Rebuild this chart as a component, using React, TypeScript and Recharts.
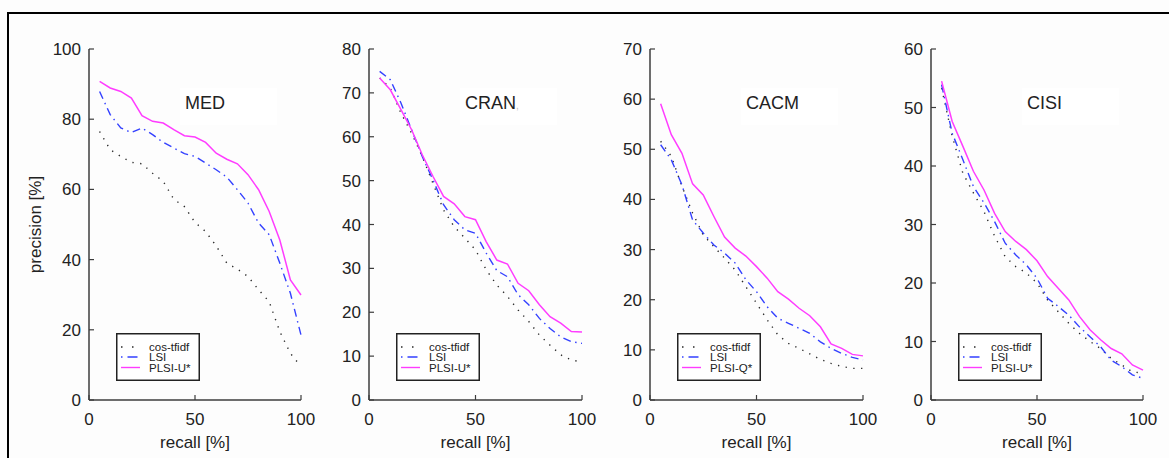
import React from 'react';
import { LineChart, Line, XAxis, YAxis, Legend } from 'recharts';

// ---------- data ----------
const recall = [5, 10, 15, 20, 25, 30, 35, 40, 45, 50, 55, 60, 65, 70, 75, 80, 85, 90, 95, 100];
const xTicks = [0, 50, 100];
const xTopTicks = [50];

const medCos = [76.5, 71.3, 69.4, 67.7, 67.3, 64.6, 62.3, 57.2, 55.1, 50.6, 48, 43.9, 39, 37.3, 35.2, 31.4, 28, 19.5, 13.3, 9.5];
const medLsi = [87.9, 81.3, 77.5, 76.2, 77.5, 75.6, 73.4, 71.8, 70.2, 69.4, 67.5, 65.6, 63.5, 59.9, 56.1, 50.4, 47.1, 39, 30.4, 18.5];
const medPlsi = [90.8, 88.9, 87.9, 86, 81, 79.4, 78.9, 77, 75.3, 74.9, 73.4, 70.3, 68.6, 67.3, 64.2, 59.9, 53.7, 45.6, 34.2, 29.9];

const cranCos = [73.4, 71.1, 65.4, 60.8, 55.5, 49.4, 43.3, 39.5, 36.9, 34.2, 29.7, 26.2, 23.6, 20.5, 17.9, 14.8, 12.5, 10.3, 9.1, 8.7];
const cranLsi = [74.9, 73, 67.7, 61.6, 55.5, 50.2, 44.5, 41.1, 38.8, 38, 33.5, 29.5, 28.1, 24, 21.7, 18.6, 16.3, 14.4, 13.3, 12.9];
const cranPlsi = [73.4, 70.7, 66.2, 61.6, 55.9, 51, 46.4, 44.7, 41.8, 41.1, 36.1, 31.9, 31, 26.6, 24.9, 21.7, 19, 17.5, 15.6, 15.5];

const cacmCos = [51.6, 48.6, 42.6, 37.3, 32.9, 30.6, 28.3, 25.9, 22.6, 19.3, 16, 13, 11.3, 10.3, 9.2, 8.1, 7.3, 6.7, 6.3, 6.3];
const cacmLsi = [50.9, 47.9, 42.9, 35.9, 33.3, 30.9, 29.3, 27.3, 24, 21.6, 18.6, 16.3, 15.3, 14.3, 13.3, 11.6, 10.3, 9.3, 8.5, 8];
const cacmPlsi = [59.1, 52.9, 49.2, 43.1, 40.9, 36.6, 32.5, 30.3, 28.7, 26.6, 24.3, 21.6, 20.1, 18.3, 16.8, 14.6, 11.2, 10.3, 9.1, 8.8];

const cisiCos = [53.3, 45.1, 38.8, 35.4, 32.2, 28, 24.5, 22.8, 21.7, 20, 17.1, 15.1, 13.1, 11.4, 10, 8.8, 7.1, 6, 4.8, 4.6];
const cisiLsi = [53.9, 45.6, 41.1, 36.5, 33.7, 30.5, 26.8, 24.8, 23.1, 20.8, 17.4, 16, 14.5, 12.5, 10.8, 9.1, 6.8, 5.7, 4.3, 3.7];
const cisiPlsi = [54.5, 47.6, 43.4, 39.1, 35.9, 31.9, 28.8, 27.1, 25.7, 23.8, 21.1, 19.1, 17.1, 14.3, 12, 10.3, 8.8, 7.9, 6, 5.1];

const medTicks = [0, 20, 40, 60, 80, 100];
const cranTicks = [0, 10, 20, 30, 40, 50, 60, 70, 80];
const cacmTicks = [0, 10, 20, 30, 40, 50, 60, 70];
const cisiTicks = [0, 10, 20, 30, 40, 50, 60];

const panelTitles = ['MED', 'CRAN', 'CACM', 'CISI'];
const cosName = 'cos-tfidf';
const lsiName = 'LSI';
const plsiNames = ['PLSI-U*', 'PLSI-U*', 'PLSI-Q*', 'PLSI-U*'];

// ---------- styles ----------
const FONT = '"Liberation Sans", Arial, Helvetica, sans-serif';
const AXIS = '#3c3c3c';
const TEXT = '#222';
const COS_COLOR = '#2a2a2a';
const LSI_COLOR = '#3340ff';
const PLSI_COLOR = '#ff3cff';
const COS_DASH = '1.3 6.5';
const LSI_DASH = '8 4.5 1.5 4.5';

const LEFT_W = 70;
const RIGHT_M = 25;

const LeftTick = (p: any) => (
  <g>
    <line x1={p.x} y1={p.y} x2={p.x + 5} y2={p.y} stroke={AXIS} strokeWidth={1.2} />
    <text x={p.x - 8} y={p.y + 6} textAnchor="end" fontSize={17} fill={TEXT} fontFamily={FONT}>
      {p.payload.value}
    </text>
  </g>
);
const RightTick = (p: any) => (
  <line x1={p.x} y1={p.y} x2={p.x - 5} y2={p.y} stroke={AXIS} strokeWidth={1.2} />
);
const BottomTick = (p: any) => (
  <g>
    <line x1={p.x} y1={p.y} x2={p.x} y2={p.y - 5} stroke={AXIS} strokeWidth={1.2} />
    <text x={p.x} y={p.y + 25} textAnchor="middle" fontSize={17} fill={TEXT} fontFamily={FONT}>
      {p.payload.value}
    </text>
  </g>
);
const TopTick = (p: any) => (
  <line x1={p.x} y1={p.y} x2={p.x} y2={p.y + 5} stroke={AXIS} strokeWidth={1.2} />
);

const XLabel = (p: any) => {
  const vb = p.viewBox || {};
  return (
    <text x={vb.x + vb.width / 2} y={vb.y + 48} textAnchor="middle" fontSize={17} fill={TEXT} fontFamily={FONT}>
      recall [%]
    </text>
  );
};
const YLabel = (p: any) => {
  const vb = p.viewBox || {};
  const cx = vb.x + 16;
  const cy = vb.y + vb.height / 2;
  return (
    <text
      x={cx}
      y={cy}
      transform={`rotate(-90, ${cx}, ${cy})`}
      textAnchor="middle"
      dominantBaseline="central"
      fontSize={17}
      fill={TEXT}
      fontFamily={FONT}
    >
      precision [%]
    </text>
  );
};

const LegendBox = ({ plsiName }: { plsiName: string }) => {
  const rows = [
    { name: cosName, color: COS_COLOR, dash: '1.5 9.5', y: 14 },
    { name: lsiName, color: LSI_COLOR, dash: '1.5 5 10 5', y: 24 },
    { name: plsiName, color: PLSI_COLOR, dash: undefined, y: 34.5 },
  ];
  return (
    <svg width={84} height={48} style={{ display: 'block' }}>
      <rect x={0.75} y={0.75} width={82.5} height={46.5} fill="#fff" stroke="#222" strokeWidth={1.5} />
      {rows.map((r) => (
        <g key={r.name}>
          <line x1={5} y1={r.y} x2={24} y2={r.y} stroke={r.color} strokeWidth={1.4} strokeDasharray={r.dash} />
          <text x={33} y={r.y + 4} fontSize={11.5} fill={TEXT} fontFamily={FONT}>
            {r.name}
          </text>
        </g>
      ))}
    </svg>
  );
};

interface PanelProps {
  plotLeft: number;
  plotWidth: number;
  title: string;
  titleSuffix?: string;
  yMax: number;
  yTicks: number[];
  cos: number[];
  lsi: number[];
  plsi: number[];
  plsiName: string;
  showYLabel: boolean;
}

const Panel = (props: PanelProps) => {
  const { plotLeft, plotWidth, title, titleSuffix, yMax, yTicks, cos, lsi, plsi, plsiName, showYLabel } = props;
  const data = recall.map((r, i) => ({ recall: r, cos: cos[i], lsi: lsi[i], plsi: plsi[i] }));
  const W = LEFT_W + plotWidth + RIGHT_M;
  const axisLine = { stroke: AXIS, strokeWidth: 1.5 };
  return (
    <div style={{ position: 'absolute', left: plotLeft - LEFT_W, top: 0, width: W, height: 458 }}>
      <LineChart width={W} height={458} data={data} margin={{ top: 49, right: RIGHT_M, bottom: 28, left: 0 }}>
        <XAxis
          xAxisId="b"
          dataKey="recall"
          type="number"
          domain={[0, 100]}
          ticks={xTicks}
          interval={0}
          tick={BottomTick}
          tickLine={false}
          tickSize={0}
          tickMargin={0}
          height={30}
          axisLine={axisLine}
          label={XLabel}
        />
        <XAxis
          xAxisId="t"
          orientation="top"
          type="number"
          domain={[0, 100]}
          ticks={xTopTicks}
          interval={0}
          tick={TopTick}
          tickLine={false}
          tickSize={0}
          tickMargin={0}
          height={0}
          axisLine={axisLine}
        />
        <YAxis
          yAxisId="l"
          type="number"
          domain={[0, yMax]}
          ticks={yTicks}
          interval={0}
          tick={LeftTick}
          tickLine={false}
          tickSize={0}
          tickMargin={0}
          width={LEFT_W}
          axisLine={axisLine}
          label={showYLabel ? YLabel : undefined}
        />
        <YAxis
          yAxisId="r"
          orientation="right"
          type="number"
          domain={[0, yMax]}
          ticks={yTicks}
          interval={0}
          tick={RightTick}
          tickLine={false}
          tickSize={0}
          tickMargin={0}
          width={0}
          axisLine={axisLine}
        />
        <Legend
          layout="vertical"
          align="center"
          verticalAlign="middle"
          wrapperStyle={{ left: LEFT_W + 27, top: 333, width: 84, height: 48 }}
          content={() => <LegendBox plsiName={plsiName} />}
        />
        <Line
          xAxisId="b"
          yAxisId="l"
          dataKey="cos"
          name={cosName}
          stroke={COS_COLOR}
          strokeWidth={1.4}
          strokeDasharray={COS_DASH}
          dot={false}
          isAnimationActive={false}
          type="linear"
        />
        <Line
          xAxisId="b"
          yAxisId="l"
          dataKey="lsi"
          name={lsiName}
          stroke={LSI_COLOR}
          strokeWidth={1.4}
          strokeDasharray={LSI_DASH}
          dot={false}
          isAnimationActive={false}
          type="linear"
        />
        <Line
          xAxisId="b"
          yAxisId="l"
          dataKey="plsi"
          name={plsiName}
          stroke={PLSI_COLOR}
          strokeWidth={1.5}
          dot={false}
          isAnimationActive={false}
          type="linear"
        />
      </LineChart>
      <div
        style={{
          position: 'absolute',
          left: LEFT_W + 91,
          top: 88,
          width: 97,
          height: 37,
          background: '#ffffff',
          fontFamily: FONT,
          fontSize: 18,
          lineHeight: '18px',
          color: TEXT,
          boxSizing: 'border-box',
          paddingLeft: 5,
          paddingTop: 6,
          whiteSpace: 'nowrap',
        }}
      >
        {title}
        {titleSuffix ? <span style={{ color: '#bbb', fontSize: 10 }}>{titleSuffix}</span> : null}
      </div>
    </div>
  );
};

export default function App() {
  return (
    <div
      style={{
        position: 'absolute',
        left: 0,
        top: 0,
        width: 1169,
        height: 458,
        overflow: 'hidden',
        background: '#fdfdfd',
        fontFamily: FONT,
      }}
    >
      <div
        style={{
          position: 'absolute',
          left: 7,
          top: 12,
          width: 1200,
          height: 500,
          borderTop: '2px solid #000',
          borderLeft: '2px solid #000',
        }}
      />
      <Panel plotLeft={89} plotWidth={212} title={panelTitles[0]} yMax={100} yTicks={medTicks} cos={medCos} lsi={medLsi} plsi={medPlsi} plsiName={plsiNames[0]} showYLabel />
      <Panel plotLeft={369} plotWidth={213} title={panelTitles[1]} titleSuffix="," yMax={80} yTicks={cranTicks} cos={cranCos} lsi={cranLsi} plsi={cranPlsi} plsiName={plsiNames[1]} showYLabel={false} />
      <Panel plotLeft={650} plotWidth={213} title={panelTitles[2]} yMax={70} yTicks={cacmTicks} cos={cacmCos} lsi={cacmLsi} plsi={cacmPlsi} plsiName={plsiNames[2]} showYLabel={false} />
      <Panel plotLeft={931} plotWidth={212} title={panelTitles[3]} yMax={60} yTicks={cisiTicks} cos={cisiCos} lsi={cisiLsi} plsi={cisiPlsi} plsiName={plsiNames[3]} showYLabel={false} />
    </div>
  );
}
